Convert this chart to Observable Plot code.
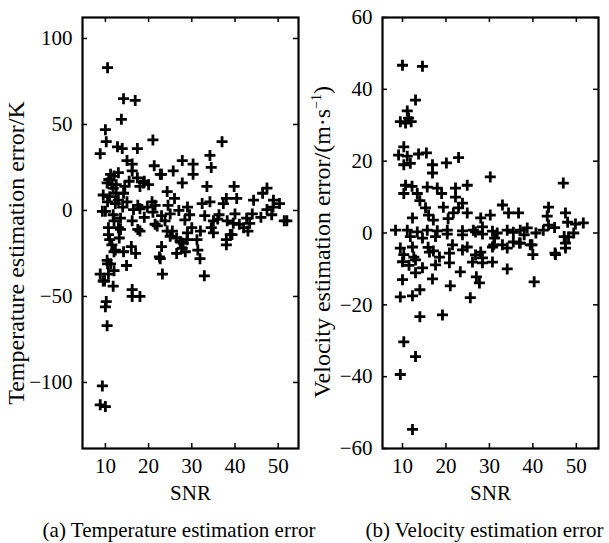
<!DOCTYPE html>
<html><head><meta charset="utf-8">
<script src="https://cdn.jsdelivr.net/npm/d3@7"></script>
<script src="https://cdn.jsdelivr.net/npm/@observablehq/plot@0.6"></script>
<style>
body{margin:0;background:#fff;}
#wrap{position:relative;width:609px;height:543px;overflow:hidden;background:#fff;font-family:"Liberation Serif","Times New Roman",serif;}
svg.panel{position:absolute;top:0;font-family:"Liberation Serif","Times New Roman",serif !important;font-size:21px !important;background:transparent !important;overflow:visible !important;color:#000 !important;}
.cap{position:absolute;top:518px;font-size:21px;line-height:25px;text-align:center;white-space:nowrap;color:#000;}
</style></head><body><div id="wrap"></div>
<script>
// ---- data: panel (a) temperature estimation error vs SNR ----
const tempSNR = [10.5,14.2,16.9,13.7,10.0,10.2,12.8,8.8,13.9,17.4,21.0,37.0,
15.0,16.2,21.3,23.0,27.8,30.3,34.2,34.5,25.7,30.3,27.8,24.3,11.2,10.4,11.8,14.2,16.2,17.4,18.8,20.0,9.5,10.8,12.0,13.0,11.5,12.5,18.0,19.0,22.7,15.5,
33.5,38.0,39.8,40.4,47.4,46.4,48.9,50.3,44.3,32.4,34.2,37.3,20.8,19.7,18.0,16.5,15.0,12.3,10.0,11.8,13.5,16.2,18.0,10.7,13.0,10.7,21.5,23.8,24.3,25.0,27.3,27.8,28.9,30.0,29.5,28.4,31.2,31.4,31.9,35.0,36.3,38.2,39.6,38.9,40.0,42.7,44.0,43.4,43.0,47.4,48.5,51.4,48.8,22.7,12.3,14.2,17.0,10.4,
11.2,14.9,10.7,8.8,9.5,11.8,23.2,32.9,16.2,16.2,18.0,10.2,10.0,10.4,9.3,8.8,10.0,
9.3,14.0,17.5,21.0,25.0,27.0,29.0,33.0,36.0,41.0,46.0,52.0,13.5,17.5,22.0,25.5,29.0,32.0,34.5,42.0,11.5,16.0,23.0,26.5,28.0,26.5,28.5,12.0,10.5,9.8,12.0,35.0,38.0,38.0,39.3,22.5,
11.0,12.5,10.5,13.0,14.5,12.0,11.0,13.2,21.5,23.0,19.0,26.0,24.5];
const tempErr = [83,65,64,53,47,40,37,33,36,36,41,40,
29,27,26,21,29,27,32,25,23,21,16,11,21,16,13,10,23,19,16,15,9,18,20,22,15,10,14,17,21,17,
14,7,14,7,13,10,6,4,6,4,5,4,5,2,1,0.5,5,4,-0.5,-2.5,-4.5,-6,-12,-10,-10,-14,-8,-6,-12,-15,-18,-22,-17,-10,-2.5,-5.5,-17,-23,-28,-6,-2.5,-6,-7.5,-14,-2,-4.5,-2,-7.5,-12,0.5,-2.5,-6,2,-28,-23,-24,-25,-29,
-31,-32,-37,-37,-41,-44,-37,-38,-46,-50,-50,-53,-56,-67,-102,-113,-114,
-0.5,2,3,-1,-2,0,2,-3,-5,-8,-4,-6,-11,-11,-9,-12,-13,-12,-10,-10,-20,-21,-21,-16,-19,-25,-24,-24,-31,-41,-35,-13,-17,-20,-14,-27,
8,15,5,6,14,-6,-17,-16,3,-3,-4,7,3];

// ---- data: panel (b) velocity estimation error vs SNR ----
const velSNR = [10,14.6,13,11.1,11.4,10.7,12,9.5,10.3,9.1,11.1,10.3,11.8,13.7,15.5,16.9,20.1,22.9,16.9,30.2,47,10.7,10.3,13.4,15.7,18,22.2,24.9,22.2,23.8,15.3,19.4,22.9,24.9,21.7,33,34.4,36.7,43.6,43.3,47.5,28,30.2,12.3,17.1,
8.4,11.1,13.4,15.7,18,20.3,23.8,26.3,28.4,31.8,34.1,37.1,38.7,42.4,43.6,48,49.8,51.6,49.4,
11.8,14.6,15.9,17.1,21.5,24.9,28,31,34.1,35.5,37.1,39.4,40,45.2,47.5,48.2,10.3,12.6,9.5,12.3,16.2,18.5,20.8,23.8,26.8,28.4,30.7,33,36.9,39.8,45.1,47.5,
10,13,14.6,17.6,20.8,23.3,26.1,28.4,30.7,34.1,40.3,27,10,13,16.9,21,27.7,9.5,12.3,14,25.6,14,19.2,10.3,13,9.5,12.3,
17.6,20.3,23.8,26.8,28.4,30.7,31.2,35.5,38,40.7,45,47.2,12.2,14,16,19,20.5,11.5];
const velErr = [46.7,46.4,37,34,32,30.6,31,31,24,21.7,21.4,19,19.4,22,22.3,19,19.5,21,16.7,15.6,13.9,13.3,11,11,12.8,12.5,12.5,13.3,10,8.3,7,7.2,7,5.6,5.6,7.8,5.6,5.6,7.2,4.7,5.6,4.2,5,4.2,3.6,
0.8,0.8,0.3,0.8,0.6,0.8,0.6,0.8,1.7,0,0.8,0.8,1.4,0.8,2.2,3,2.5,2.8,0,
-1,-1.4,-4,-5,-3.3,-3.9,-5.3,-3.3,-4.2,-2.5,-2.8,-3.3,-6,-6,-4.2,-1.1,-6,-6.7,-4.2,-3.9,-5.3,-6.7,-5.6,-4.7,-6.1,-6.9,-3.9,-3.3,-2.8,-3.3,-5.6,-2.8,
-8,-7.5,-9.7,-8.9,-8.3,-10.8,-8.1,-8.3,-8.1,-10,-13.6,-12.2,-13,-11.1,-12.8,-14.7,-13.9,-17.8,-17.5,-15.8,-18,-23.3,-22.8,-30.3,-34.4,-39.4,-54.7,
-1,-0.3,-0.5,0.3,-0.3,0.5,-1.4,0.2,-0.5,0,1.5,-1,13,9,5,11,4,-9];

// ---- axes / text ----
const snrTicks = [10,20,30,40,50];
const tempTicks = [-100,-50,0,50,100];
const velTicks = [-60,-40,-20,0,20,40,60];
const tempDomain = [-138.4,112.2];
const velDomain = [-60,60];
const snrDomainA = [4.7,54.7];
const snrDomainB = [5.4,55.1];
const xLabel = "SNR";
const tempLabel = "Temperature estimation error/K";
const velLabelParts = ["Velocity estimation error/(m\u00b7s", "\u22121", ")"];
const captions = ["(a) Temperature estimation error", "(b) Velocity estimation error"];

const plusSymbol = {draw(ctx, size){const r = Math.sqrt(size/Math.PI); ctx.moveTo(-r,0); ctx.lineTo(r,0); ctx.moveTo(0,-r); ctx.lineTo(0,r);}};
const FONT = '"Liberation Serif", "Times New Roman", serif';

function panel({xs, ys, xDomain, yDomain, yTicks, ylab, width, mL, mR, ylabDx, ylabDy}) {
  const H = 518, mT = 17, mB = 70;
  const plotH = H - mT - mB;
  const plotW = width - mL - mR;
  const data = xs.map((x, i) => ({x, y: ys[i]}));
  const svg = Plot.plot({
    width, height: H, marginLeft: mL, marginRight: mR, marginTop: mT, marginBottom: mB,
    style: `font-family: ${FONT}; font-size: 21px; color: #000; background: transparent; overflow: visible;`,
    x: {domain: xDomain, ticks: snrTicks, tickSize: 0, tickPadding: 10, label: null},
    y: {domain: yDomain, ticks: yTicks, tickSize: 0, tickPadding: 10, label: null},
    marks: [
      Plot.tickX(snrTicks, {x: d => d, insetTop: plotH - 5, stroke: "#000", strokeWidth: 1.5}),
      Plot.tickX(snrTicks, {x: d => d, insetBottom: plotH - 5, stroke: "#000", strokeWidth: 1.5}),
      Plot.tickY(yTicks, {y: d => d, insetRight: plotW - 5, stroke: "#000", strokeWidth: 1.5}),
      Plot.tickY(yTicks, {y: d => d, insetLeft: plotW - 5, stroke: "#000", strokeWidth: 1.5}),
      Plot.dot(data, {x: "x", y: "y", symbol: plusSymbol, r: 5.5, stroke: "#000", fill: "none", strokeWidth: 2.8}),
      Plot.frame({stroke: "#000", strokeWidth: 2.2}),
      Plot.text([xLabel], {frameAnchor: "bottom", dy: 51, fontSize: 21, text: d => d, fill: "#000", textAnchor: "middle"}),
      Plot.text([ylab], {frameAnchor: "left", rotate: -90, dx: ylabDx, dy: ylabDy, fontSize: 24, text: d => d, fill: "#000", textAnchor: "middle"})
    ]
  });
  svg.setAttribute("font-family", FONT);
  svg.style.fontFamily = FONT;
  svg.style.fontSize = "21px";
  svg.querySelectorAll("text").forEach(el => { el.style.fontFamily = FONT; });
  return svg;
}

const wrap = document.getElementById("wrap");
const svgA = panel({xs: tempSNR, ys: tempErr, xDomain: snrDomainA, yDomain: tempDomain, yTicks: tempTicks, ylab: tempLabel, width: 300, mL: 82, mR: 2, ylabDx: -66, ylabDy: 20});
svgA.classList.add("panel"); svgA.style.left = "0px";
wrap.appendChild(svgA);

const velLabel = velLabelParts.join("");
const svgB = panel({xs: velSNR, ys: velErr, xDomain: snrDomainB, yDomain: velDomain, yTicks: velTicks, ylab: velLabel, width: 309, mL: 82, mR: 11, ylabDx: -60, ylabDy: 9});
svgB.classList.add("panel"); svgB.style.left = "300px";
wrap.appendChild(svgB);

// superscript for the unit
const t = [...svgB.querySelectorAll("text")].find(e => e.textContent === velLabel);
if (t) {
  const ns = "http://www.w3.org/2000/svg";
  t.textContent = "";
  const a = document.createElementNS(ns, "tspan"); a.textContent = velLabelParts[0];
  const b = document.createElementNS(ns, "tspan"); b.textContent = velLabelParts[1]; b.setAttribute("font-size", "14"); b.setAttribute("dy", "-9");
  const c = document.createElementNS(ns, "tspan"); c.textContent = velLabelParts[2]; c.setAttribute("dy", "9");
  t.append(a, b, c);
}

const capA = document.createElement("div"); capA.className = "cap"; capA.style.left = "0px"; capA.style.width = "358px"; capA.textContent = captions[0];
const capB = document.createElement("div"); capB.className = "cap"; capB.style.left = "361px"; capB.style.width = "247px"; capB.textContent = captions[1];
wrap.append(capA, capB);
</script>
</body></html>
